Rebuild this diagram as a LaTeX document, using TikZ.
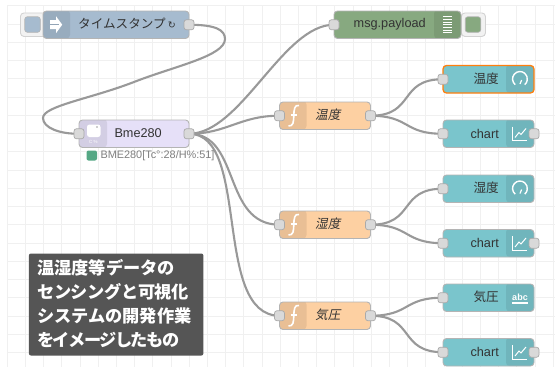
\documentclass[tikz,border=0pt]{standalone}
\usepackage{fontspec}
\setmainfont{Liberation Sans}
\newfontfamily\jp{Noto Sans CJK JP}
\newfontfamily\jpit[FakeSlant=0.2]{Noto Sans CJK JP}
\newfontfamily\dvfont{DejaVu Sans}
\definecolor{nrgrid}{HTML}{F0F0F0}
\definecolor{nrborder}{HTML}{B4B4B4}
\definecolor{nrwire}{HTML}{999999}
\definecolor{nrportline}{HTML}{AAAAAA}
\definecolor{nrtext}{HTML}{333333}
\definecolor{nrinject}{HTML}{A6BBCF}
\definecolor{nrdebug}{HTML}{87A980}
\definecolor{nrfunc}{HTML}{FDD0A2}
\definecolor{nrui}{HTML}{7AC5CC}
\definecolor{nrbme}{HTML}{E6E0F8}
\definecolor{nrport}{HTML}{D9D9D9}
\definecolor{nrnote}{HTML}{555555}
\definecolor{nrstatus}{HTML}{55A885}
\definecolor{nrorange}{HTML}{FF7F0E}
\pgfdeclarelayer{front}
\pgfsetlayers{main,front}
\tikzset{
  nrnode/.style={draw=nrborder,line width=.9pt,rounded corners=3.5pt,anchor=north west,inner sep=0pt,outer sep=0pt,minimum height=27.5pt},
  iconleft/.style={path picture={\fill[black,opacity=.08] ([shift={(-1pt,1pt)}]path picture bounding box.north west) rectangle ([xshift=#1]path picture bounding box.south west);}},
  iconright/.style={path picture={\fill[black,opacity=.08] ([shift={(1pt,1pt)}]path picture bounding box.north east) rectangle ([xshift=-#1]path picture bounding box.south east);}},
  nrportbox/.style={draw=nrportline,fill=nrport,line width=.7pt,rounded corners=2.5pt,minimum size=10pt,inner sep=0pt,outer sep=0pt},
  wire/.style={draw=nrwire,line width=2.1pt,line cap=round},
  nrlabel/.style={text=nrtext,inner sep=0pt,font=\fontsize{12.7}{14}\selectfont},
  jplabel/.style={text=nrtext,inner sep=0pt,font=\jp\fontsize{12.6}{14}\selectfont},
  jpitlabel/.style={text=nrtext,inner sep=0pt,font=\jpit\fontsize{12.6}{14}\selectfont},
  nrbutton/.style={draw=nrgrid!50!nrborder,fill=white!95!black,line width=.9pt,rounded corners=3.5pt,anchor=north west,inner sep=0pt,minimum width=27pt,minimum height=23.5pt},
  nrbuttonin/.style={draw=nrborder,rounded corners=2.5pt,line width=.6pt,inner sep=0pt,minimum width=15.5pt,minimum height=15.5pt},
  icl/.style={draw=white,line width=1pt},
  chart icon/.pic={\draw[icl,line width=.9pt] (-8,-7) -- (-8,7) -- (7,7);\draw[icl] (-5,4) -- (-1,-1) -- (1,1) -- (6,-5);},
  gauge icon/.pic={\draw[icl,line width=1.4pt] (-4.8,5.6) arc[start angle=130,end angle=410,radius=7.4];\draw[icl,line width=1.2pt] (0,5) -- (1.6,1);},
  func icon/.pic={\draw[icl,line width=1.6pt] (5.5,-10) .. controls (1,-11) and (.5,-6) .. (.3,0) .. controls (.1,6) and (0,11) .. (-5,10.5);\draw[icl,line width=1.2pt] (-3,-.5) -- (3.5,-.5);},
  debug icon/.pic={\foreach \k in {-8,-5.3,-2.6,0,2.6,5.3,8}{\draw[icl,line width=.9pt] (-4.5,\k) -- (4.5,\k);}},
  inject icon/.pic={\fill[white] (-.5,-8.5) -- (5.7,0) -- (-.5,8.5) -- (-.5,4.5) -- (-6.5,4.5) -- (-6.5,-4.5) -- (-.5,-4.5) -- cycle;\draw[nrinject!88!black,line width=1.1pt] (-7,0) -- (2.5,0);}
}
\begin{document}
\begin{tikzpicture}[x=1pt,y=-1pt]
\useasboundingbox (0,0) rectangle (555,367);
\fill[white] (0,0) rectangle (555,367);
% grid
\foreach \i in {0,...,30}{\draw[nrgrid,line width=.9pt] ({7.3+18.2*\i},5) -- ({7.3+18.2*\i},367);}
\foreach \j in {0,...,19}{\draw[nrgrid,line width=.9pt] (7,{5.7+18.26*\j}) -- (555,{5.7+18.26*\j});}
% buttons
\node[nrbutton] (injbtn) at (20,12.5) {};
\node[nrbutton,minimum width=24pt] (dbgbtn) at (461,12.5) {};
% nodes
\node[nrnode,fill=nrinject,minimum width=146pt,iconleft=27pt] (inject) at (43,11) {};
\node[nrnode,fill=nrbme,minimum width=110pt,iconleft=28pt] (bme) at (79,120) {};
\node[nrnode,fill=nrdebug,minimum width=127pt,iconright=27pt] (debug) at (334,11) {};
\node[nrnode,fill=nrfunc,minimum width=91pt,iconleft=27pt] (f1) at (279.5,102) {};
\node[nrnode,fill=nrfunc,minimum width=91pt,iconleft=27pt] (f2) at (279.5,211) {};
\node[nrnode,fill=nrfunc,minimum width=91pt,iconleft=27pt] (f3) at (279.5,302) {};
\node[nrnode,fill=nrui,draw=nrorange,line width=1.3pt,minimum width=91pt,iconright=28pt] (g1) at (443,65.5) {};
\node[nrnode,fill=nrui,minimum width=91pt,iconright=28pt] (c1) at (443,120) {};
\node[nrnode,fill=nrui,minimum width=91pt,iconright=28pt] (g2) at (443,175) {};
\node[nrnode,fill=nrui,minimum width=91pt,iconright=28pt] (c2) at (443,229.5) {};
\node[nrnode,fill=nrui,minimum width=91pt,iconright=28pt] (t3) at (443,284) {};
\node[nrnode,fill=nrui,minimum width=91pt,iconright=28pt] (c3) at (443,338.5) {};
\node[nrbuttonin,fill=nrinject] (injbtnin) at (32.5,24.5) {};
\node[nrbuttonin,fill=nrdebug] (dbgbtnin) at (473,24.5) {};
% ports
\begin{pgfonlayer}{front}
\node[nrportbox] (injO) at (inject.east) {};
\node[nrportbox] (bmeI) at (bme.west) {};
\node[nrportbox] (bmeO) at (bme.east) {};
\node[nrportbox] (dbgI) at (debug.west) {};
\node[nrportbox] (f1I) at (f1.west) {};
\node[nrportbox] (f1O) at (f1.east) {};
\node[nrportbox] (f2I) at (f2.west) {};
\node[nrportbox] (f2O) at (f2.east) {};
\node[nrportbox] (f3I) at (f3.west) {};
\node[nrportbox] (f3O) at (f3.east) {};
\node[nrportbox] (g1I) at (g1.west) {};
\node[nrportbox] (c1I) at (c1.west) {};
\node[nrportbox] (c1O) at (c1.east) {};
\node[nrportbox] (g2I) at (g2.west) {};
\node[nrportbox] (c2I) at (c2.west) {};
\node[nrportbox] (c2O) at (c2.east) {};
\node[nrportbox] (t3I) at (t3.west) {};
\node[nrportbox] (c3I) at (c3.west) {};
\node[nrportbox] (c3O) at (c3.east) {};
\end{pgfonlayer}
% wires
\draw[wire] (injO.center) .. controls +(27,0) and (225,30) .. (225,39) .. controls (225,56) and (175,66) .. (134,82) .. controls (90,99) and (43,106) .. (43,118) .. controls (43,128) and (60,134) .. (bmeI.center);
\draw[wire] (bmeO.center) .. controls +(52,0) and (283,24.5) .. (dbgI.center);
\draw[wire] (bmeO.center) .. controls +(38,0) and (240,115.5) .. (f1I.center);
\draw[wire] (bmeO.center) .. controls +(52,0) and (222,224.5) .. (f2I.center);
\draw[wire] (bmeO.center) .. controls +(62,0) and (212,315.5) .. (f3I.center);
\draw[wire] (f1O.center) .. controls +(45,0) and (398,79) .. (g1I.center);
\draw[wire] (f1O.center) .. controls +(40,0) and (403,134) .. (c1I.center);
\draw[wire] (f2O.center) .. controls +(45,0) and (398,188.5) .. (g2I.center);
\draw[wire] (f2O.center) .. controls +(40,0) and (403,243) .. (c2I.center);
\draw[wire] (f3O.center) .. controls +(40,0) and (403,297.5) .. (t3I.center);
\draw[wire] (f3O.center) .. controls +(45,0) and (398,352) .. (c3I.center);
% icons
\pic at (56.5,24.7) {inject icon};
\pic at (447.5,24.7) {debug icon};
\pic at (293.5,115.5) {func icon};
\pic at (293.5,224.5) {func icon};
\pic at (293.5,315.5) {func icon};
\pic at (520,79) {gauge icon};
\pic at (520,188.5) {gauge icon};
\pic at (520,133.5) {chart icon};
\pic at (520,243) {chart icon};
\pic at (520,352) {chart icon};
\node[text=white,inner sep=0pt,font=\bfseries\fontsize{9}{10}\selectfont] (abc) at (520,297) {abc};
\draw[white,line width=1.2pt] (512,303) -- (528,303);
\fill[white,rounded corners=2.5pt] (87,124.5) rectangle (100.5,137);
\fill[nrtext] (97,127) circle (.6);
\node[text=white,inner sep=0pt,font=\fontsize{4.5}{5}\selectfont] (bmeicon) at (93.5,142) {C \%};
% labels
\node[jplabel,anchor=west] (l1) at (78,23.5) {タイムスタンプ\,{\dvfont\fontsize{9.5}{10}\selectfont ↻}};
\node[nrlabel,anchor=west] (l2) at (114.3,133.5) {Bme280};
\node[nrlabel,anchor=west] (l3) at (353.5,24) {msg.payload};
\node[jpitlabel,anchor=west] (l4) at (315,115) {温度};
\node[jpitlabel,anchor=west] (l5) at (315,224) {湿度};
\node[jpitlabel,anchor=west] (l6) at (315,315) {気圧};
\node[jplabel,anchor=east] (l7) at (499,78.5) {温度};
\node[nrlabel,anchor=east] (l8) at (499,133.5) {chart};
\node[jplabel,anchor=east] (l9) at (499,187.5) {湿度};
\node[nrlabel,anchor=east] (l10) at (499,242.5) {chart};
\node[jplabel,anchor=east] (l11) at (499,296.5) {気圧};
\node[nrlabel,anchor=east] (l12) at (499,351.5) {chart};
% status
\fill[nrstatus,rounded corners=2pt] (86.5,150.5) rectangle (97,160.5);
\node[anchor=west,inner sep=0pt,text=black!50,font=\fontsize{10.9}{12}\selectfont] (status) at (100.3,155.5) {BME280[Tc°:28/H\%:51]};
% note
\node[fill=nrnote,rounded corners=2pt,anchor=north west,minimum width=174.5pt,minimum height=102pt,inner sep=0pt] (note) at (28.7,253.3) {};
\node[anchor=west,inner sep=0pt,align=left,text=white,font=\jp\bfseries\fontsize{17.2}{24}\selectfont] (notetext) at (37,304) {温湿度等データの\\{\addfontfeatures{LetterSpace=-2.3}センシングと可視化}\\システムの開発作業\\{\addfontfeatures{LetterSpace=-9}をイメージしたもの}};
\end{tikzpicture}
\end{document}
